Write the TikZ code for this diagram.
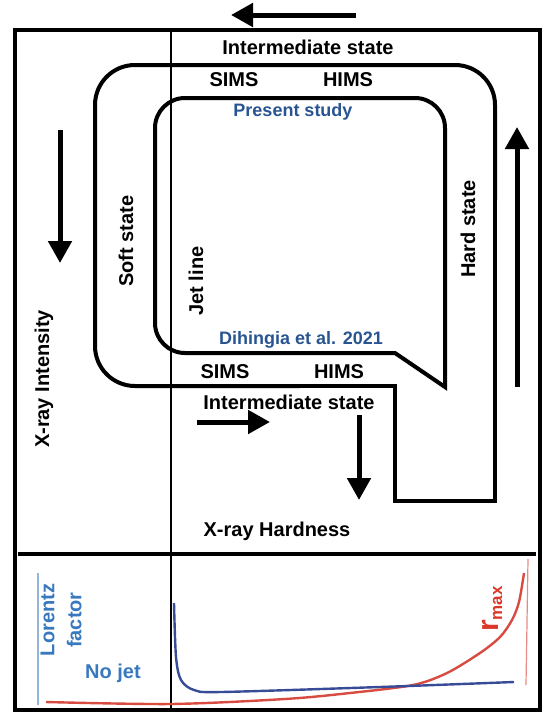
\documentclass[tikz,border=0pt]{standalone}
\usepackage{fontspec}
\setmainfont{Liberation Sans}
\usetikzlibrary{arrows.meta}
\definecolor{studyblue}{RGB}{40,85,145}
\definecolor{panelblue}{RGB}{55,120,190}
\definecolor{gammablue}{RGB}{55,75,150}
\definecolor{rmaxred}{RGB}{220,55,40}
\definecolor{curvered}{RGB}{215,75,65}

\begin{document}
\begin{tikzpicture}[x=1pt,y=-1pt,
  lab/.style={font=\bfseries\fontsize{20}{24}\selectfont},
  reflab/.style={font=\bfseries\fontsize{18}{21}\selectfont,text=studyblue},
  frame/.style={line width=3.2pt},
  track/.style={line width=4pt,line join=miter},
  bigarrow/.style={line width=5pt,-{Triangle[length=22pt,width=23pt]}}]
\useasboundingbox (0,0) rectangle (558,728);

% box and divisions
\draw[frame] (15,30) rectangle (540,710);
\draw[frame] (18,554) -- (536,554);
\draw[line width=1.3pt] (171,30) -- (171,554);
\draw[line width=2.6pt] (171,554) -- (171,710);

% outer track (present study)
\draw[track,rounded corners=40pt] (495,200) -- (495,65) -- (95,65) -- (95,386) -- (300,386);
\draw[track] (300,386) -- (395,386) -- (395,501) -- (495,501) -- (495,200);

% inner track (Dihingia et al.)
\draw[track,rounded corners=30pt] (300,353) -- (155,353) -- (155,98) -- (445,98) -- (445,250);
\draw[track] (445,250) -- (445,387) -- (395,353) -- (300,353);

% direction arrows
\coordinate (topA) at (356,15);
\coordinate (topB) at (231,15);
\coordinate (leftA) at (60,130);
\coordinate (leftB) at (60,263);
\coordinate (rightA) at (517,387);
\coordinate (rightB) at (517,127);
\coordinate (midA) at (197,422);
\coordinate (midB) at (270,422);
\coordinate (downA) at (359,415);
\coordinate (downB) at (359,500);
\draw[bigarrow] (topA) -- (topB);
\draw[bigarrow] (leftA) -- (leftB);
\draw[bigarrow] (rightA) -- (rightB);
\draw[bigarrow] (midA) -- (midB);
\draw[bigarrow] (downA) -- (downB);

% labels
\node[lab] (intertop) at (308,47) {Intermediate state};
\node[lab] (simstop) at (234,80) {SIMS};
\node[lab] (himstop) at (348,80) {HIMS};
\node[reflab] (present) at (293,112) {Present study};
\node[lab,rotate=90] (soft) at (126,241) {Soft state};
\node[lab,rotate=90] (jet) at (196,281) {Jet line};
\node[lab,rotate=90] (hard) at (468,229) {Hard state};
\node[reflab] (dihingia) at (301,340) {Dihingia et al. 2021};
\node[lab] (simsbot) at (225,372) {SIMS};
\node[lab] (himsbot) at (339,372) {HIMS};
\node[lab] (interbot) at (289,402) {Intermediate state};
\node[lab] (hardness) at (277,531) {X-ray Hardness};
\node[lab,rotate=90] (intensity) at (44,379) {X-ray Intensity};

% lower panel
\draw[panelblue!55,line width=1.2pt] (38,573) -- (38,705);
\draw[curvered!65,line width=1.2pt] (528,559) -- (526,685);
\draw[curvered,line width=2.4pt] plot[smooth] coordinates {(46,702) (171,704) (285,699) (350,693) (413,685) (447,673) (480,653) (500,637) (512,620) (519,602) (524,573)};
\draw[gammablue,line width=2.4pt] plot[smooth] coordinates {(174,603) (176,657) (181,680) (194,690) (221,692) (380,687) (514,682)};
\node[lab,rotate=90,text=panelblue,align=center,font=\bfseries\fontsize{20}{27}\selectfont] (lorentz) at (61,620) {Lorentz\\factor};
\node[lab,text=panelblue] (nojet) at (113,673) {No jet};
\node[rotate=90,text=rmaxred,font=\bfseries] (rmax) at (492,609) {{\fontsize{30}{30}\selectfont r}{\fontsize{17}{17}\selectfont\raisebox{-4pt}{max}}};
\end{tikzpicture}
\end{document}
